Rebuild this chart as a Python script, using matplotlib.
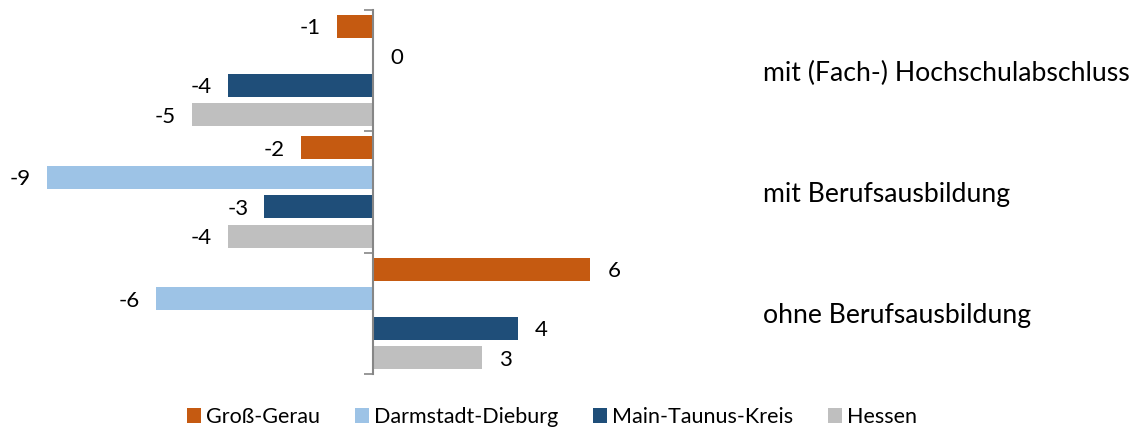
import matplotlib
matplotlib.use("Agg")
import matplotlib.pyplot as plt
from matplotlib.patches import Patch
from matplotlib.transforms import blended_transform_factory

categories = ["mit (Fach-) Hochschulabschluss", "mit Berufsausbildung", "ohne Berufsausbildung"]
series = ["Groß-Gerau", "Darmstadt-Dieburg", "Main-Taunus-Kreis", "Hessen"]
gross_gerau = [-1, -2, 6]
darmstadt_dieburg = [0, -9, -6]
main_taunus = [-4, -3, 4]
hessen = [-5, -4, 3]
values = [gross_gerau, darmstadt_dieburg, main_taunus, hessen]
colors = ["#C55A11", "#9DC3E6", "#1F4E79", "#BFBFBF"]

plt.rcParams['font.family'] = ['Lato', 'DejaVu Sans']

W, H = 1146, 432
fig = plt.figure(figsize=(W / 100, H / 100), dpi=100)
ax_left, ax_right, ax_top, ax_bot = 10, 740, 10, 374
ax = fig.add_axes([ax_left / W, (H - ax_bot) / H, (ax_right - ax_left) / W, (ax_bot - ax_top) / H])

zero_px, px_per_unit = 373, 36.2
ax.set_xlim((ax_left - zero_px) / px_per_unit, (ax_right - zero_px) / px_per_unit)
ax.set_ylim(3, 0)

spacing = 0.2432
bar_h = 0.19
for i, (name, vals, col) in enumerate(zip(series, values, colors)):
    ys = [c + 0.5 + (i - 1.5) * spacing for c in range(len(categories))]
    ax.barh(ys, vals, height=bar_h, color=col, zorder=2)
    for y, v in zip(ys, vals):
        if v < 0:
            ax.annotate(f"{v}", (v, y), xytext=(-11.5, 0), textcoords="offset points",
                        ha="right", va="center_baseline", fontsize=16, color="#000000")
        else:
            ax.annotate(f"{v}", (v, y), xytext=(12.5, 0), textcoords="offset points",
                        ha="left", va="center_baseline", fontsize=16, color="#000000")

for s in ["top", "right", "bottom"]:
    ax.spines[s].set_visible(False)
ax.spines["left"].set_position(("data", 0))
ax.spines["left"].set_color("#868686")
ax.spines["left"].set_linewidth(1.5)
ax.spines["left"].set_zorder(3)
ax.set_xticks([])
ax.set_yticks([0, 1, 2, 3])
ax.set_yticklabels([])
ax.tick_params(axis="y", direction="out", length=6.5, width=1.2, color="#868686")

trans = blended_transform_factory(fig.transFigure, ax.transData)
for c, label in enumerate(categories):
    ax.text(763 / W, c + 0.5, label, transform=trans, ha="left", va="center_baseline",
            fontsize=19.2, color="#000000")

handles = [Patch(facecolor=col, edgecolor="none") for col in colors]
fig.legend(handles, series, loc="center", bbox_to_anchor=(552 / W, (H - 417) / H),
           ncol=4, frameon=False, fontsize=15.5, handlelength=0.65, handleheight=0.65,
           handletextpad=0.25, columnspacing=1.6)

fig.savefig("out.png", dpi=100)
